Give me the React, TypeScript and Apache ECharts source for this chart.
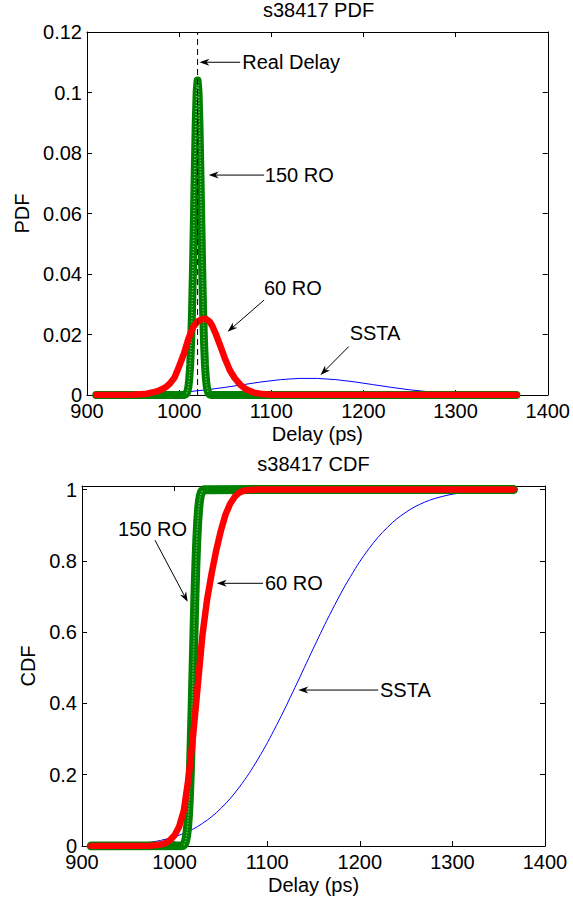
import React, { useEffect, useRef } from 'react';
import * as echarts from 'echarts';

const FONT = '"Liberation Sans", Arial, Helvetica, sans-serif';

// ---------- axes ----------
const xMin = 900;
const xMax = 1400;
const xInterval = 100;
const pdfYMax = 0.12;
const pdfYInterval = 0.02;
const cdfYMax = 1.01;
const cdfYInterval = 0.2;

// ---------- PDF data ----------
const pdfSstaX = [910, 930, 950, 970, 990, 1010, 1030, 1050, 1070, 1090, 1110, 1130, 1150, 1170, 1190, 1210, 1230, 1250, 1270, 1290, 1310, 1330, 1350, 1366];
const pdfSstaY = [0.00003, 0.00008, 0.00017, 0.00034, 0.00063, 0.00109, 0.00173, 0.00254, 0.00345, 0.00435, 0.00508, 0.00549, 0.00549, 0.00508, 0.00435, 0.00345, 0.00254, 0.00173, 0.00109, 0.00063, 0.00034, 0.00017, 0.00008, 0.00004];

const pdfRo150X = [910, 1005, 1006, 1007, 1008, 1009, 1010, 1011, 1012, 1013, 1014, 1015, 1016, 1017, 1018, 1019, 1020, 1021, 1022, 1023, 1024, 1025, 1026, 1027, 1028, 1029, 1030, 1031, 1032, 1033, 1034, 1035, 1366];
const pdfRo150Y = [0, 0, 0.0001, 0.0002, 0.0005, 0.0013, 0.0027, 0.0054, 0.0100, 0.0174, 0.0279, 0.0417, 0.0580, 0.0749, 0.0899, 0.1003, 0.1040, 0.1003, 0.0899, 0.0749, 0.0580, 0.0417, 0.0279, 0.0174, 0.0100, 0.0054, 0.0027, 0.0013, 0.0005, 0.0002, 0.0001, 0, 0];

const pdfRo60X = [910, 950, 965, 975, 980, 986, 990, 995, 1000, 1005, 1010, 1015, 1020, 1025, 1029, 1033, 1036, 1040, 1045, 1050, 1055, 1060, 1066, 1072, 1080, 1090, 1100, 1120, 1366];
const pdfRo60Y = [0, 0.0001, 0.0004, 0.0011, 0.0017, 0.0027, 0.0038, 0.0058, 0.0095, 0.0135, 0.0185, 0.0224, 0.0243, 0.0251, 0.0252, 0.0243, 0.0228, 0.0200, 0.0160, 0.0118, 0.0082, 0.0057, 0.0035, 0.0020, 0.0009, 0.0003, 0.0001, 0, 0];

const realDelayX = [1020, 1020];
const realDelayY = [0, 0.12];

// ---------- CDF data ----------
const cdfSstaX = [910, 930, 950, 970, 990, 1010, 1030, 1050, 1070, 1090, 1110, 1130, 1150, 1170, 1190, 1210, 1230, 1250, 1270, 1290, 1310, 1330, 1350, 1366];
const cdfSstaY = [0.0007, 0.0018, 0.0041, 0.0091, 0.0188, 0.0355, 0.0633, 0.1056, 0.1655, 0.2438, 0.3384, 0.4447, 0.5553, 0.6616, 0.7562, 0.8345, 0.8944, 0.9367, 0.9645, 0.9812, 0.9909, 0.9959, 0.9982, 0.9992];

const cdfRo150X = [910, 1008, 1009, 1010, 1011, 1012, 1013, 1014, 1015, 1016, 1017, 1018, 1019, 1020, 1021, 1022, 1023, 1024, 1025, 1026, 1027, 1028, 1029, 1030, 1031, 1032, 1033, 1366];
const cdfRo150Y = [0, 0.0006, 0.0015, 0.0035, 0.0075, 0.0154, 0.0294, 0.0526, 0.0885, 0.1401, 0.2090, 0.2946, 0.3936, 0.5, 0.6064, 0.7054, 0.7910, 0.8599, 0.9115, 0.9474, 0.9706, 0.9846, 0.9925, 0.9965, 0.9985, 0.9994, 0.9998, 1];

const cdfRo60X = [910, 960, 975, 985, 990, 995, 1000, 1005, 1010, 1015, 1020, 1025, 1030, 1035, 1040, 1045, 1050, 1055, 1060, 1065, 1070, 1075, 1080, 1090, 1366];
const cdfRo60Y = [0, 0.0002, 0.001, 0.004, 0.008, 0.016, 0.03, 0.055, 0.1, 0.19, 0.31, 0.45, 0.59, 0.69, 0.765, 0.83, 0.885, 0.93, 0.96, 0.98, 0.992, 0.997, 0.999, 1, 1];

// ---------- annotations (data coordinates) ----------
const annGrid = [0, 0, 0, 0, 1, 1, 1];
const annText = ['Real Delay', '150 RO', '60 RO', 'SSTA', '150 RO', '60 RO', 'SSTA'];
const annTextX = [1068.5, 1093, 1092, 1185, 938.9, 1097.6, 1221.8];
const annTextY = [0.110, 0.0727, 0.0354, 0.0204, 0.888, 0.737, 0.4375];
const annTailX = [1066.3, 1092.2, 1092.2, 1184, 978.8, 1095.5, 1219.9];
const annTailY = [0.110, 0.0727, 0.0314, 0.0160, 0.858, 0.737, 0.4375];
const annTipX = [1022, 1032, 1052.6, 1153.4, 1014.1, 1045.5, 1133.6];
const annTipY = [0.110, 0.0727, 0.0209, 0.0066, 0.685, 0.737, 0.4375];

const zip = (xs: number[], ys: number[]) => xs.map((x, i) => [x, ys[i]]);

function xAxisDef(gridIndex: number, position: string, labels: boolean) {
  return {
    type: 'value',
    gridIndex,
    position,
    min: xMin,
    max: xMax,
    interval: xInterval,
    axisLine: { show: true, onZero: false, lineStyle: { color: '#000', width: 1 } },
    axisTick: { show: true, inside: true, length: 5, lineStyle: { color: '#000', width: 1 } },
    axisLabel: {
      show: labels,
      color: '#000',
      fontSize: 20,
      fontFamily: FONT,
      margin: 8,
      lineHeight: 16,
      formatter: (v: number) => String(Math.round(v)),
    },
    splitLine: { show: false },
    name: labels ? 'Delay (ps)' : '',
    nameLocation: 'middle',
    nameGap: 29,
    nameTextStyle: { color: '#000', fontSize: 20, fontFamily: FONT },
  };
}

function yAxisDef(gridIndex: number, position: string, labels: boolean, max: number, interval: number, name: string, nameGap: number) {
  return {
    type: 'value',
    gridIndex,
    position,
    min: 0,
    max,
    interval,
    axisLine: { show: true, onZero: false, lineStyle: { color: '#000', width: 1 } },
    axisTick: { show: true, inside: true, length: 5, lineStyle: { color: '#000', width: 1 } },
    axisLabel: {
      show: labels,
      color: '#000',
      fontSize: 20,
      fontFamily: FONT,
      margin: 5,
      lineHeight: 14,
      formatter: (v: number) => (v > max - 1e-9 && max === cdfYMax ? '' : String(+v.toFixed(3))),
    },
    splitLine: { show: false },
    name: labels ? name : '',
    nameLocation: 'middle',
    nameGap,
    nameTextStyle: { color: '#000', fontSize: 20, fontFamily: FONT },
  };
}

function lineSeries(name: string, data: number[][], axis: number, color: string, width: number, extra: any = {}, smooth: any = false) {
  return {
    name,
    type: 'line',
    xAxisIndex: axis,
    yAxisIndex: axis,
    data,
    symbol: 'none',
    showSymbol: false,
    silent: true,
    smooth,
    lineStyle: { color, width, cap: 'round', join: 'round', ...extra },
  };
}

export default function App() {
  const ref = useRef<HTMLDivElement>(null);

  useEffect(() => {
    if (!ref.current) return;
    const chart = echarts.init(ref.current, undefined, { renderer: 'svg' });

    const option: any = {
      animation: false,
      textStyle: { fontFamily: FONT },
      grid: [
        { left: 87, top: 32, width: 463, height: 363 },
        { left: 82, top: 486, width: 463, height: 360 },
      ],
      xAxis: [
        xAxisDef(0, 'bottom', true),
        xAxisDef(0, 'top', false),
        xAxisDef(1, 'bottom', true),
        xAxisDef(1, 'top', false),
      ],
      yAxis: [
        yAxisDef(0, 'left', true, pdfYMax, pdfYInterval, 'PDF', 54),
        yAxisDef(0, 'right', false, pdfYMax, pdfYInterval, '', 0),
        yAxisDef(1, 'left', true, cdfYMax, cdfYInterval, 'CDF', 42),
        yAxisDef(1, 'right', false, cdfYMax, cdfYInterval, '', 0),
      ],
      series: [
        lineSeries('SSTA PDF', zip(pdfSstaX, pdfSstaY), 0, '#0000ff', 1),
        lineSeries('150 RO PDF', zip(pdfRo150X, pdfRo150Y), 0, '#008000', 8),
        lineSeries('150 RO PDF tex', zip(pdfRo150X.slice(4, 29), pdfRo150Y.slice(4, 29)), 0, 'rgba(210,255,210,0.6)', 1.5, { type: [1, 2], cap: 'butt' }),
        lineSeries('60 RO PDF', zip(pdfRo60X, pdfRo60Y), 0, '#ff0000', 6.5),
        lineSeries('Real Delay', zip(realDelayX, realDelayY), 0, '#000', 1, { type: [6, 4], cap: 'butt' }),
        lineSeries('SSTA CDF', zip(cdfSstaX, cdfSstaY), 2, '#0000ff', 1, {}, 0.4),
        lineSeries('150 RO CDF', zip(cdfRo150X, cdfRo150Y), 2, '#008000', 9),
        lineSeries('150 RO CDF tex', zip(cdfRo150X.slice(3, 24), cdfRo150Y.slice(3, 24)), 2, 'rgba(210,255,210,0.6)', 1.5, { type: [1, 2], cap: 'butt' }),
        lineSeries('60 RO CDF', zip(cdfRo60X, cdfRo60Y), 2, '#ff0000', 6.5),
      ],
    };
    chart.setOption(option);

    const graphic: any[] = [
      {
        type: 'text',
        x: 318.5,
        y: 10,
        style: { text: 's38417 PDF', fontSize: 20, fontFamily: FONT, fill: '#000', align: 'center', verticalAlign: 'middle' },
      },
      {
        type: 'text',
        x: 313.5,
        y: 464,
        style: { text: 's38417 CDF', fontSize: 20, fontFamily: FONT, fill: '#000', align: 'center', verticalAlign: 'middle' },
      },
    ];

    for (let i = 0; i < annText.length; i++) {
      const g = annGrid[i] * 2;
      const finder = { xAxisIndex: g, yAxisIndex: g };
      const t = chart.convertToPixel(finder, [annTextX[i], annTextY[i]]) as number[];
      const tail = chart.convertToPixel(finder, [annTailX[i], annTailY[i]]) as number[];
      const tip = chart.convertToPixel(finder, [annTipX[i], annTipY[i]]) as number[];
      const dx = tip[0] - tail[0];
      const dy = tip[1] - tail[1];
      const len = Math.hypot(dx, dy) || 1;
      const ux = dx / len;
      const uy = dy / len;
      const px = -uy;
      const py = ux;
      const L = 10;
      const W = 3.5;
      const N = 7;
      const bx = tip[0] - ux * L;
      const by = tip[1] - uy * L;
      const nx = tip[0] - ux * N;
      const ny = tip[1] - uy * N;
      graphic.push({
        type: 'line',
        shape: { x1: tail[0], y1: tail[1], x2: nx, y2: ny },
        style: { stroke: '#000', lineWidth: 1 },
        z: 100,
      });
      graphic.push({
        type: 'polygon',
        shape: { points: [[tip[0], tip[1]], [bx + px * W, by + py * W], [nx, ny], [bx - px * W, by - py * W]] },
        style: { fill: '#000' },
        z: 100,
      });
      graphic.push({
        type: 'text',
        x: t[0],
        y: t[1],
        style: { text: annText[i], fontSize: 20, fontFamily: FONT, fill: '#000', align: 'left', verticalAlign: 'middle' },
        z: 100,
      });
    }

    chart.setOption({ graphic });

    return () => {
      chart.dispose();
    };
  }, []);

  return (
    <div
      ref={ref}
      style={{ position: 'absolute', left: 0, top: 0, width: 573, height: 903, background: '#fff' }}
    />
  );
}
